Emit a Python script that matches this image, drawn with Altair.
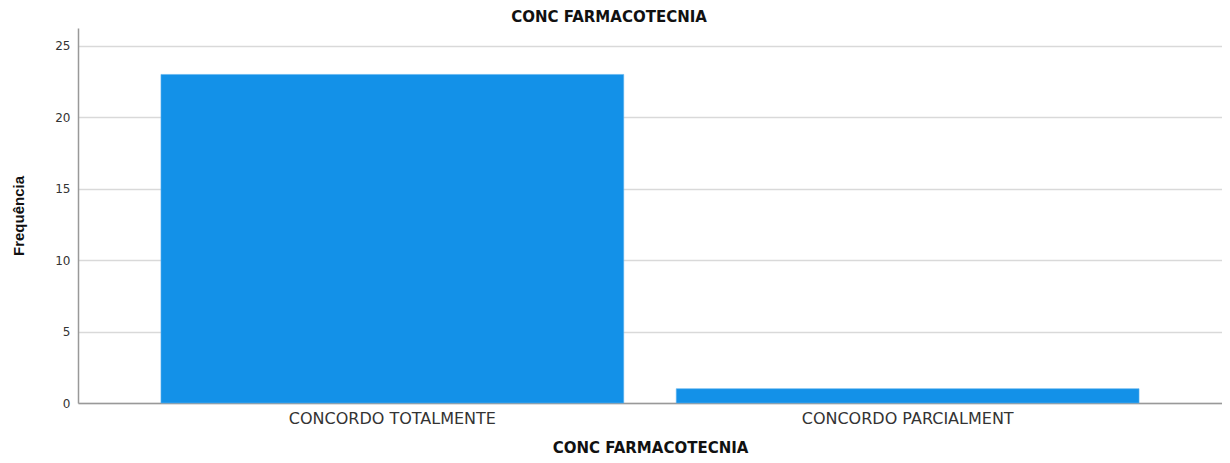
import altair as alt
import pandas as pd

categories = ["CONCORDO TOTALMENTE", "CONCORDO PARCIALMENT"]
frequencies = [23, 1]
y_ticks = [0, 5, 10, 15, 20, 25]

df = pd.DataFrame({"cat": categories, "freq": frequencies})

chart = alt.Chart(df).mark_bar(color="#1391E8", stroke="#5DB2EE", strokeWidth=0.6).encode(
    x=alt.X("cat:N", sort=categories,
            scale=alt.Scale(paddingInner=0.102, paddingOuter=0.161),
            axis=alt.Axis(title="CONC FARMACOTECNIA", labelAngle=0, ticks=False, labelLimit=0,
                          labelFont="DejaVu Sans", labelFontSize=16, labelColor="#333333",
                          labelPadding=7, domainColor="#999999", domainWidth=1.5,
                          titleFont="DejaVu Sans", titleFontSize=15, titleFontWeight="bold",
                          titleColor="#111111", titlePadding=14)),
    y=alt.Y("freq:Q",
            scale=alt.Scale(domain=[0, 26.25], nice=False),
            axis=alt.Axis(title="Frequência", values=y_ticks, ticks=False,
                          labelFont="DejaVu Sans", labelFontSize=12, labelColor="#333333",
                          labelPadding=8, domainColor="#999999", domainWidth=1.5,
                          gridColor="#D9D9D9", gridWidth=1.3,
                          titleFont="Liberation Sans", titleFontSize=15, titleFontWeight="bold",
                          titleColor="#111111", titleX=-60, titleY=187.5,
                          titleAlign="center", titleBaseline="middle", titleAngle=-90)),
).properties(
    width=1144,
    height=375,
    title=alt.TitleParams("CONC FARMACOTECNIA", font="DejaVu Sans", fontSize=15,
                          fontWeight="bold", color="#111111", anchor="middle",
                          dx=-41, offset=3),
    autosize=alt.AutoSizeParams(type="none"),
    padding={"left": 70, "top": 20, "right": 0, "bottom": 60},
).configure_view(stroke=None)

chart.save("out.html", embed_options={"renderer": "svg", "actions": False})
